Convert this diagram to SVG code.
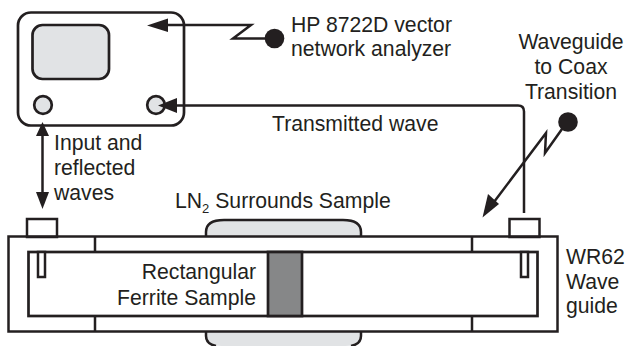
<svg xmlns="http://www.w3.org/2000/svg" width="625" height="346" viewBox="0 0 625 346">
<style>
text{font-family:"Liberation Sans",Arial,sans-serif;font-size:21.2px;fill:#231f20}
.l{fill:none;stroke:#231f20;stroke-width:2.5}
.w{fill:#fff;stroke:#231f20;stroke-width:2.5}
.t{stroke-width:2.7}
.g{fill:#e1e3e5;stroke:#231f20;stroke-width:2.7}
.s{fill:#868788;stroke:#231f20;stroke-width:2.7}
.b{fill:#e1e3e5}
.h{fill:#231f20;stroke:none}
.e{text-anchor:end}
.m{text-anchor:middle}
</style>
<rect width="625" height="346" fill="#fff"/>
<g id="lnbath"><path d="M206 237V232Q206 220 224 220H343Q361 220 361 232V237Z" class="b"/><path d="M206 237V232Q206 220 224 220H343Q361 220 361 232V237" class="l"/><path d="M206 331V336Q206 346 222 346H345Q361 346 361 336V331Z" class="b"/><path d="M206 331V336Q206 344 216 346M361 331V336Q361 344 351 346" class="l"/></g>
<g id="analyzer"><rect x="18" y="12.500" width="166" height="113" rx="13" class="w t"/><rect x="32.500" y="25" width="76.500" height="54" rx="10" class="g"/><circle cx="43" cy="105" r="8.800" class="g"/><circle cx="156" cy="105" r="8.800" class="g"/></g>
<g id="waveguide"><rect x="27" y="219" width="30" height="18" class="w"/><rect x="509.500" y="219" width="30" height="18" class="w"/><rect x="8.500" y="236.500" width="549" height="95" class="l"/><rect x="28.500" y="252" width="509" height="64" class="w t"/><path d="M95 236v16M95 316v16M472 236v16M472 316v16" class="l"/><rect x="38" y="252" width="7" height="25" class="w"/><rect x="521" y="252" width="7" height="25" class="w"/><rect x="268" y="252" width="34" height="64" class="s"/></g>
<g id="connectors">
<path d="M168 25H251L233 38.500H270" class="l"/><path class="h" d="M147 25.500L168 18.500V32Z"/><circle cx="274.500" cy="38.500" r="9.800" class="h"/>
<path d="M170 105.500H518Q524 105.500 524 111.500V213" class="l"/><path class="h" d="M158 105.500L177 98V113Z"/>
<path d="M42.500 134V196" class="l"/><path class="h" d="M42.500 122L49 136H36Z"/><path class="h" d="M42.500 209L36 192H49Z"/>
<path d="M567 122L545 153L546 133L494 202" class="l"/><path class="h" d="M482.500 217.500L488 194L499 204Z"/><circle cx="568" cy="122" r="9.800" class="h"/></g>
<g id="labels"><text x="291" y="32">HP 8722D vector</text><text x="291" y="56">network analyzer</text><text x="571" y="49" class="m">Waveguide</text><text x="571" y="74" class="m">to Coax</text><text x="571" y="99" class="m">Transition</text><text x="272" y="131">Transmitted wave</text><text x="54" y="150">Input and</text><text x="54" y="175">reflected</text><text x="54" y="200">waves</text><text x="175" y="208">LN<tspan font-size="13" dy="5">2</tspan><tspan dy="-5"> Surrounds Sample</tspan></text><text x="256" y="279" class="e">Rectangular</text><text x="256" y="305" class="e">Ferrite Sample</text><text x="566" y="264">WR62</text><text x="566" y="289">Wave</text><text x="566" y="313">guide</text></g>
</svg>
